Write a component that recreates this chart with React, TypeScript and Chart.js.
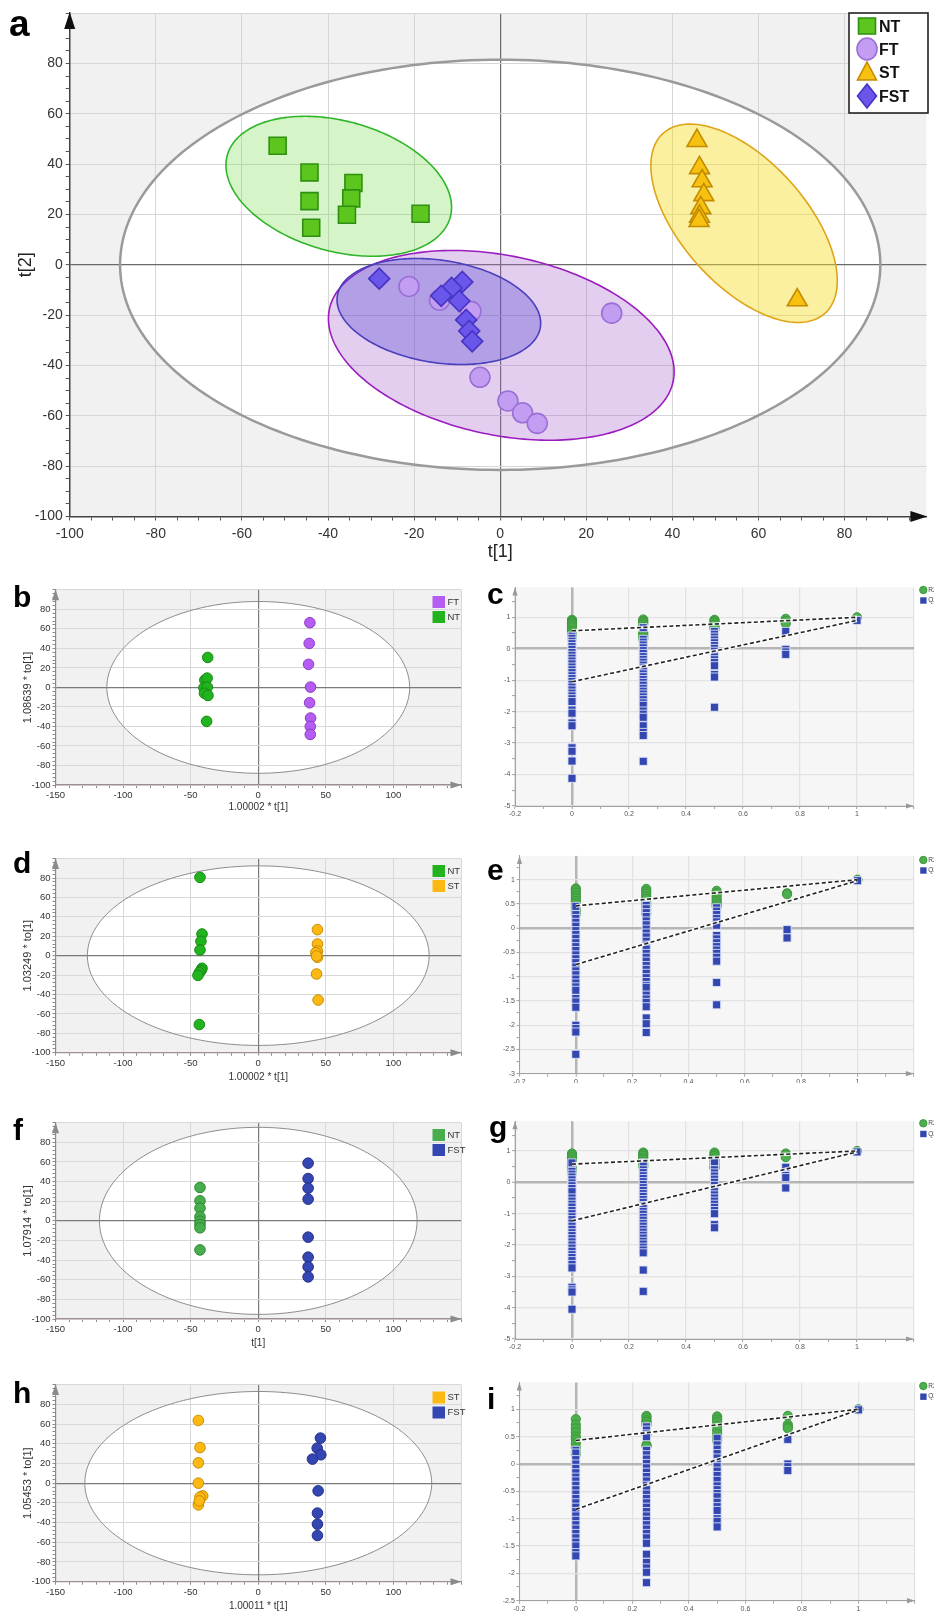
import React, { useEffect, useRef } from 'react';
import { Chart, registerables } from 'chart.js';

Chart.register(...registerables);

const FONT = '"Liberation Sans", Arial, sans-serif';

// ---------------- Panel a (PCA score plot, 4 groups) ----------------
const A_NT_X = [-51.7, -44.3, -44.3, -43.9, -34.1, -34.6, -35.6, -18.5];
const A_NT_Y = [47.3, 36.7, 25.3, 14.7, 32.5, 26.4, 19.9, 20.3];
const A_FT_X = [-21.2, -14.1, -6.8, 25.9, -4.7, 1.8, 5.2, 8.6];
const A_FT_Y = [-8.6, -14.0, -18.5, -19.2, -44.7, -54.1, -58.8, -63.0];
const A_ST_X = [45.7, 46.3, 46.9, 47.3, 46.6, 46.3, 46.2, 69.0];
const A_ST_Y = [49.3, 38.5, 33.3, 27.8, 22.6, 19.2, 17.5, -14.0];
const A_FST_X = [-28.1, -8.8, -11.3, -13.7, -9.5, -7.9, -7.2, -6.5];
const A_FST_Y = [-5.5, -6.8, -9.2, -12.3, -14.4, -21.9, -26.3, -30.4];
// ellipses: [centerX, centerY, halfWidthX, halfHeightY, correlation]
const A_ELLIPSE_ALL = [0, 0, 88.3, 81.5, 0];
const A_ELLIPSE_NT = [-37.5, 31.2, 26.2, 27.8, -0.3];
const A_ELLIPSE_FT = [0.25, -32.0, 40.15, 37.7, -0.28];
const A_ELLIPSE_ST = [56.65, 16.5, 21.65, 39.4, -0.58];
const A_ELLIPSE_FST = [-14.25, -18.55, 23.65, 21.05, -0.22];
const A_LEGEND = ['NT', 'FT', 'ST', 'FST'];

// ---------------- OPLS-DA score plots ----------------
const B_NT_X = [-37.4, -39.5, -37.8, -40.2, -37.7, -39.8, -37.2, -38.2];
const B_NT_Y = [30.7, 7.5, 9.5, -0.5, 0.3, -6.0, -8.2, -34.8];
const B_FT_X = [38.2, 37.7, 37.2, 38.7, 38.0, 38.7, 38.5, 38.5];
const B_FT_Y = [66.3, 45.1, 23.6, 0.3, -15.7, -31.4, -40.0, -48.2];
const B_ELLIPSE = [0, 0, 112, 88, 0];

const D_NT_X = [-43.1, -41.6, -42.4, -43.1, -41.6, -42.4, -43.6, -44.6, -43.6];
const D_NT_Y = [80.7, 22.3, 14.8, 5.8, -13.0, -15.4, -17.5, -20.3, -71.0];
const D_ST_X = [43.8, 43.8, 43.8, 42.6, 43.8, 43.1, 43.1, 44.3];
const D_ST_Y = [26.8, 12.0, 4.8, 3.1, -1.7, -0.3, -18.9, -45.7];
const D_ELLIPSE = [0, 0, 126.4, 92.5, 0];

const F_NT_X = [-43.1, -43.1, -43.1, -43.1, -43.1, -43.1, -43.1, -43.1];
const F_NT_Y = [34.0, 20.4, 12.9, 4.1, -0.3, -3.7, -7.1, -29.6];
const F_FST_X = [36.9, 36.9, 36.9, 36.9, 36.9, 36.9, 36.9, 36.9];
const F_FST_Y = [58.8, 43.1, 33.3, 22.1, -16.6, -37.0, -46.9, -57.1];
const F_ELLIPSE = [0, 0, 117.5, 95.3, 0];

const H_ST_X = [-44.3, -43.1, -44.3, -44.3, -41.1, -43.1, -44.3, -43.6];
const H_ST_Y = [63.6, 36.2, 20.6, 0.0, -12.9, -14.2, -22.0, -18.0];
const H_FST_X = [46.0, 43.6, 46.3, 40.1, 44.3, 43.8, 43.8, 43.8];
const H_FST_Y = [45.7, 35.5, 28.8, 24.4, -7.8, -30.4, -41.6, -53.1];
const H_ELLIPSE = [0, 0, 128.3, 93, 0];

// ---------------- Permutation tests ----------------
const PERM_X = [0, 0.25, 0.5, 0.75, 1];
const LINE_X = [0, 1];

const C_R2 = [
  [0.92, 0.88, 0.84, 0.8, 0.74, 0.68, 0.6, 0.55, 0.47, 0.4, 0.33],
  [0.93, 0.88, 0.83, 0.76, 0.69, 0.5, 0.44, 0.37, 0.3],
  [0.92, 0.88, 0.83, 0.77, 0.7, 0.63],
  [0.95, 0.88, 0.8],
  [1.0],
];
const C_Q2 = [
  [0.4, 0.33, 0.24, 0.16, 0.07, -0.02, -0.12, -0.21, -0.3, -0.39, -0.48, -0.58, -0.67, -0.76, -0.86, -0.95, -1.04, -1.13, -1.22, -1.31, -1.41, -1.5, -1.59, -1.68, -1.95, -2.05, -2.36, -2.45, -3.15, -3.26, -3.57, -4.12],
  [0.67, 0.3, 0.21, 0.12, 0.03, -0.06, -0.15, -0.25, -0.34, -0.43, -0.52, -0.61, -0.7, -0.8, -0.89, -0.98, -1.07, -1.16, -1.26, -1.35, -1.44, -1.53, -1.62, -1.72, -1.8, -1.98, -2.08, -2.18, -2.45, -2.66, -2.76, -3.58],
  [0.55, 0.46, 0.37, 0.28, 0.19, 0.1, 0.01, -0.08, -0.17, -0.26, -0.35, -0.44, -0.54, -0.82, -0.9, -1.86],
  [0.55, -0.02, -0.1, -0.18],
  [0.9],
];
const C_LINE_R2 = [0.57, 1.0];
const C_LINE_Q2 = [-1.05, 0.9];

const E_R2 = [
  [0.82, 0.78, 0.73, 0.67, 0.62, 0.56, 0.5, 0.43, 0.36, 0.28],
  [0.81, 0.76, 0.71, 0.65, 0.6, 0.53, 0.46, 0.38, 0.3],
  [0.77, 0.72, 0.66, 0.6, 0.55, 0.5, 0.45],
  [0.72, 0.7],
  [1.0],
];
const E_Q2 = [
  [0.45, 0.28, 0.2, 0.12, 0.04, -0.05, -0.13, -0.21, -0.3, -0.38, -0.46, -0.55, -0.63, -0.71, -0.8, -0.88, -0.96, -1.05, -1.13, -1.21, -1.28, -1.45, -1.52, -1.63, -2.0, -2.07, -2.14, -2.6],
  [0.47, 0.4, 0.32, 0.24, 0.15, 0.07, -0.02, -0.1, -0.18, -0.27, -0.35, -0.43, -0.52, -0.6, -0.68, -0.77, -0.85, -0.93, -1.02, -1.1, -1.18, -1.22, -1.38, -1.46, -1.53, -1.62, -1.85, -1.97, -2.15],
  [0.42, 0.35, 0.28, 0.2, 0.13, 0.06, -0.15, -0.22, -0.3, -0.38, -0.45, -0.52, -0.6, -0.68, -1.12, -1.58],
  [-0.03, -0.2],
  [0.98],
];
const E_LINE_R2 = [0.46, 1.0];
const E_LINE_Q2 = [-0.75, 0.98];

const G_R2 = [
  [0.92, 0.87, 0.8, 0.72, 0.65, 0.57, 0.5, 0.42, 0.35, 0.28],
  [0.95, 0.9, 0.85, 0.78, 0.72, 0.65, 0.58, 0.5],
  [0.95, 0.9, 0.85, 0.78, 0.7, 0.6, 0.5, 0.45],
  [0.92, 0.88, 0.8],
  [1.0],
];
const G_Q2 = [
  [0.62, 0.35, 0.26, 0.17, 0.08, -0.02, -0.11, -0.2, -0.3, -0.5, -0.6, -0.7, -0.79, -0.9, -1.0, -1.1, -1.19, -1.3, -1.4, -1.5, -1.61, -1.7, -1.8, -1.9, -2.0, -2.1, -2.2, -2.31, -2.4, -2.5, -2.62, -2.73, -3.35, -3.43, -3.5, -4.05],
  [0.62, 0.4, 0.31, 0.21, 0.12, 0.02, -0.07, -0.17, -0.26, -0.36, -0.45, -0.55, -0.64, -0.74, -0.83, -0.93, -1.02, -1.12, -1.21, -1.31, -1.4, -1.5, -1.59, -1.69, -1.78, -1.88, -1.97, -2.07, -2.16, -2.25, -2.8, -3.48],
  [0.65, 0.4, 0.3, 0.2, 0.1, 0.0, -0.1, -0.2, -0.3, -0.4, -0.5, -0.6, -0.7, -0.8, -0.9, -1.0, -1.35, -1.45],
  [0.48, 0.22, 0.15, -0.18],
  [0.97],
];
const G_LINE_R2 = [0.58, 1.0];
const G_LINE_Q2 = [-1.23, 0.97];

const I_R2 = [
  [0.82, 0.72, 0.65, 0.58, 0.5, 0.45, 0.38, 0.3, 0.22, 0.17],
  [0.88, 0.85, 0.8, 0.77, 0.72, 0.55, 0.35, 0.32],
  [0.87, 0.82, 0.77, 0.7, 0.62, 0.55, 0.48, 0.42],
  [0.88, 0.72, 0.68, 0.65],
  [1.0],
];
const I_Q2 = [
  [0.25, 0.2, 0.08, 0.0, -0.08, -0.16, -0.24, -0.31, -0.39, -0.47, -0.55, -0.63, -0.71, -0.79, -0.87, -0.95, -1.03, -1.11, -1.19, -1.27, -1.35, -1.43, -1.5, -1.62, -1.68],
  [0.68, 0.62, 0.55, 0.5, 0.25, 0.17, 0.09, 0.01, -0.07, -0.15, -0.23, -0.31, -0.39, -0.47, -0.55, -0.63, -0.71, -0.79, -0.87, -0.95, -1.03, -1.11, -1.19, -1.27, -1.35, -1.45, -1.65, -1.8, -1.9, -1.98, -2.17],
  [0.47, 0.35, 0.27, 0.19, 0.11, 0.03, -0.05, -0.13, -0.21, -0.3, -0.4, -0.47, -0.54, -0.6, -0.7, -0.78, -0.85, -1.0, -1.05, -1.15],
  [0.45, 0.0, -0.05, -0.12],
  [0.99],
];
const I_LINE_R2 = [0.43, 1.0];
const I_LINE_Q2 = [-0.83, 0.99];

// ---------------- helpers ----------------
const pts = (xs: number[], ys: number[]) => xs.map((x, i) => ({ x, y: ys[i] }));
const colPts = (cols: number[][]) => cols.flatMap((ys, i) => ys.map((y) => ({ x: PERM_X[i], y })));

function ellipsePath(ctx: any, xs: any, ys: any, e: number[]) {
  const [cx, cy, rx, ry, rho] = e;
  const ay = rho * ry;
  const by = ry * Math.sqrt(1 - rho * rho);
  ctx.beginPath();
  const n = 240;
  for (let i = 0; i <= n; i++) {
    const t = (i / n) * Math.PI * 2;
    const px = xs.getPixelForValue(cx + rx * Math.cos(t));
    const py = ys.getPixelForValue(cy + ay * Math.cos(t) + by * Math.sin(t));
    if (i === 0) ctx.moveTo(px, py);
    else ctx.lineTo(px, py);
  }
  ctx.closePath();
}

function drawArrows(ctx: any, ca: any, color: string, len: number, half: number, over: number) {
  ctx.save();
  ctx.fillStyle = color;
  ctx.beginPath();
  ctx.moveTo(ca.left, ca.top - over);
  ctx.lineTo(ca.left - half, ca.top - over + len);
  ctx.lineTo(ca.left + half, ca.top - over + len);
  ctx.closePath();
  ctx.fill();
  ctx.beginPath();
  ctx.moveTo(ca.right + over, ca.bottom);
  ctx.lineTo(ca.right + over - len, ca.bottom - half);
  ctx.lineTo(ca.right + over - len, ca.bottom + half);
  ctx.closePath();
  ctx.fill();
  ctx.restore();
}

function txt(ctx: any, s: string, x: number, y: number, font: string, color: string, align = 'left', base = 'alphabetic', rot = 0) {
  ctx.save();
  ctx.font = font;
  ctx.fillStyle = color;
  ctx.textAlign = align;
  ctx.textBaseline = base;
  ctx.translate(x, y);
  if (rot) ctx.rotate(rot);
  ctx.fillText(s, 0, 0);
  ctx.restore();
}

function scaleOpts(o: any) {
  const zero = (v: number) => Math.abs(v) < 1e-9;
  const isMajor = (v: number) => Math.abs(v / o.major - Math.round(v / o.major)) < 1e-6;
  return {
    type: 'linear',
    position: o.pos,
    min: o.min,
    max: o.max,
    afterFit: (s: any) => {
      if (o.pos === 'left') s.width = o.size;
      else s.height = o.size;
    },
    border: { display: true, color: o.axisColor, width: o.axisWidth },
    grid: {
      drawOnChartArea: true,
      drawTicks: true,
      tickLength: o.tickLen,
      tickColor: o.tickColor,
      tickWidth: 1,
      color: (c: any) => {
        const v = c.tick ? c.tick.value : 0.123;
        if (!isMajor(v)) return 'rgba(0,0,0,0)';
        return zero(v) ? o.zeroColor : o.gridColor;
      },
      lineWidth: (c: any) => (c.tick && zero(c.tick.value) ? o.zeroWidth : o.gridWidth),
    },
    ticks: {
      stepSize: o.minor,
      includeBounds: false,
      autoSkip: false,
      maxRotation: 0,
      minRotation: 0,
      padding: o.pad,
      color: o.labelColor,
      font: { family: FONT, size: o.font },
      callback: (v: number) => (isMajor(v) && v <= o.labelMax + 1e-9 ? String(Math.round(v * 100) / 100) : ''),
    },
  };
}

function baseOptions(box: any, area: any) {
  return {
    responsive: false,
    animation: false,
    events: [],
    layout: {
      autoPadding: false,
      padding: { left: 0, top: area.t - box.top, right: box.left + box.width - area.r, bottom: 0 },
    },
    plugins: { legend: { display: false }, tooltip: { enabled: false }, title: { display: false } },
  };
}

// ---------------- layouts ----------------
const BOX_A = { left: 0, top: 0, width: 934, height: 566 };
const AREA_A = { l: 69.7, r: 926.4, t: 13.1, b: 516.5 };

const SCORE_PANELS = [
  {
    letter: 'b', letterPos: [13, 606.5],
    box: { left: 0, top: 566, width: 470, height: 249 },
    area: { l: 55.5, r: 461, t: 589.8, b: 785 },
    yTitle: '1.08639 * to[1]', xTitle: '1.00002 * t[1]', xTitleY: 807.6,
    ellipse: B_ELLIPSE, legendY: 602,
    groups: [
      { name: 'FT', x: B_FT_X, y: B_FT_Y, color: '#b55cf2', border: '#8d3cc8' },
      { name: 'NT', x: B_NT_X, y: B_NT_Y, color: '#22b41e', border: '#168a12' },
    ],
  },
  {
    letter: 'd', letterPos: [13, 873],
    box: { left: 0, top: 815, width: 470, height: 268 },
    area: { l: 55.5, r: 461, t: 858.6, b: 1052.7 },
    yTitle: '1.03249 * to[1]', xTitle: '1.00002 * t[1]', xTitleY: 1077,
    ellipse: D_ELLIPSE, legendY: 871,
    groups: [
      { name: 'NT', x: D_NT_X, y: D_NT_Y, color: '#22b41e', border: '#168a12' },
      { name: 'ST', x: D_ST_X, y: D_ST_Y, color: '#fdb913', border: '#c98d00' },
    ],
  },
  {
    letter: 'f', letterPos: [13, 1140],
    box: { left: 0, top: 1083, width: 470, height: 270 },
    area: { l: 55.5, r: 461, t: 1122.7, b: 1319 },
    yTitle: '1.07914 * to[1]', xTitle: 't[1]', xTitleY: 1343,
    ellipse: F_ELLIPSE, legendY: 1135,
    groups: [
      { name: 'NT', x: F_NT_X, y: F_NT_Y, color: '#48ad4c', border: '#2f8a33' },
      { name: 'FST', x: F_FST_X, y: F_FST_Y, color: '#3446b2', border: '#24318a' },
    ],
  },
  {
    letter: 'h', letterPos: [13, 1403],
    box: { left: 0, top: 1353, width: 470, height: 258 },
    area: { l: 55.5, r: 461, t: 1384.6, b: 1581.7 },
    yTitle: '1.05453 * to[1]', xTitle: '1.00011 * t[1]', xTitleY: 1606,
    ellipse: H_ELLIPSE, legendY: 1397.5,
    groups: [
      { name: 'ST', x: H_ST_X, y: H_ST_Y, color: '#fdb913', border: '#c98d00' },
      { name: 'FST', x: H_FST_X, y: H_FST_Y, color: '#3446b2', border: '#24318a' },
    ],
  },
];

const PERM_PANELS = [
  {
    letter: 'c', letterPos: [487, 603.5],
    box: { left: 470, top: 566, width: 464, height: 254 },
    area: { l: 515, r: 914, t: 587.4, b: 806 },
    yMin: -5, yMax: 1.95, yMajor: 1, yMinor: 0.5,
    r2: C_R2, q2: C_Q2, lineR2: C_LINE_R2, lineQ2: C_LINE_Q2, legendY: [590, 600.5],
  },
  {
    letter: 'e', letterPos: [487, 880],
    box: { left: 470, top: 820, width: 464, height: 263 },
    area: { l: 519.5, r: 913.8, t: 855.9, b: 1073.7 },
    yMin: -3, yMax: 1.49, yMajor: 0.5, yMinor: 0.25,
    r2: E_R2, q2: E_Q2, lineR2: E_LINE_R2, lineQ2: E_LINE_Q2, legendY: [860, 870.5],
  },
  {
    letter: 'g', letterPos: [489, 1137],
    box: { left: 470, top: 1083, width: 464, height: 270 },
    area: { l: 515, r: 914, t: 1121.2, b: 1339 },
    yMin: -5, yMax: 1.95, yMajor: 1, yMinor: 0.5,
    r2: G_R2, q2: G_Q2, lineR2: G_LINE_R2, lineQ2: G_LINE_Q2, legendY: [1123.3, 1134],
  },
  {
    letter: 'i', letterPos: [487, 1409],
    box: { left: 470, top: 1353, width: 464, height: 258 },
    area: { l: 519.3, r: 915, t: 1382.5, b: 1600.7 },
    yMin: -2.5, yMax: 1.49, yMajor: 0.5, yMinor: 0.25,
    r2: I_R2, q2: I_Q2, lineR2: I_LINE_R2, lineQ2: I_LINE_Q2, legendY: [1386, 1396.7],
  },
];

// ---------------- chart builders ----------------
function makeA(canvas: HTMLCanvasElement) {
  const box = BOX_A;
  const area = AREA_A;
  const C = {
    NT: ['#5cc51e', '#2e8f10'],
    FT: ['#c29df2', '#9a70d6'],
    ST: ['#f6c20f', '#c48a00'],
    FST: ['#6a56ea', '#4634c2'],
  } as any;
  const plugin = {
    id: 'aDeco',
    beforeDraw(chart: any) {
      const { ctx, chartArea: ca, scales } = chart;
      ctx.save();
      ctx.fillStyle = '#f1f1f1';
      ctx.fillRect(ca.left, ca.top, ca.right - ca.left, ca.bottom - ca.top);
      ellipsePath(ctx, scales.x, scales.y, A_ELLIPSE_ALL);
      ctx.fillStyle = '#ffffff';
      ctx.fill();
      ctx.restore();
    },
    beforeDatasetsDraw(chart: any) {
      const { ctx, scales } = chart;
      const xs = scales.x, ys = scales.y;
      ctx.save();
      ellipsePath(ctx, xs, ys, A_ELLIPSE_ALL);
      ctx.strokeStyle = '#9a9a9a';
      ctx.lineWidth = 2.5;
      ctx.stroke();
      const groups: any[] = [
        [A_ELLIPSE_NT, 'rgba(125,222,80,0.32)', '#2fb52a'],
        [A_ELLIPSE_ST, 'rgba(245,222,45,0.45)', '#e0a418'],
        [A_ELLIPSE_FT, 'rgba(172,105,210,0.33)', '#9a1cbe'],
        [A_ELLIPSE_FST, 'rgba(75,65,205,0.33)', '#4a3fbd'],
      ];
      for (const [e, fill, stroke] of groups) {
        ellipsePath(ctx, xs, ys, e);
        ctx.fillStyle = fill;
        ctx.fill();
        ctx.strokeStyle = stroke;
        ctx.lineWidth = 1.6;
        ctx.stroke();
      }
      ctx.restore();
    },
    afterDraw(chart: any) {
      const { ctx, chartArea: ca } = chart;
      drawArrows(ctx, ca, '#111', 17, 5.5, 1);
      // axis titles
      txt(ctx, 't[2]', 26, (ca.top + ca.bottom) / 2, `18px ${FONT}`, '#222', 'center', 'middle', -Math.PI / 2);
      txt(ctx, 't[1]', chart.scales.x.getPixelForValue(0), 552, `18px ${FONT}`, '#222', 'center', 'middle');
      // panel letter
      txt(ctx, 'a', 9, 36, `bold 37px ${FONT}`, '#000');
      // legend
      ctx.save();
      ctx.fillStyle = '#fff';
      ctx.fillRect(849, 13, 79, 100);
      ctx.strokeStyle = '#222';
      ctx.lineWidth = 1.6;
      ctx.strokeRect(849, 13, 79, 100);
      const ys = [26, 49, 72, 96];
      const cx = 867;
      A_LEGEND.forEach((name, i) => {
        const y = ys[i];
        const [f, b] = C[name];
        ctx.fillStyle = f;
        ctx.strokeStyle = b;
        ctx.lineWidth = 1.6;
        ctx.beginPath();
        if (name === 'NT') ctx.rect(cx - 8.5, y - 8, 17, 16);
        else if (name === 'FT') ctx.ellipse(cx, y, 10, 11, 0, 0, Math.PI * 2);
        else if (name === 'ST') {
          ctx.moveTo(cx, y - 10);
          ctx.lineTo(cx + 9.5, y + 8);
          ctx.lineTo(cx - 9.5, y + 8);
          ctx.closePath();
        } else {
          ctx.moveTo(cx, y - 12);
          ctx.lineTo(cx + 9.5, y);
          ctx.lineTo(cx, y + 12);
          ctx.lineTo(cx - 9.5, y);
          ctx.closePath();
        }
        ctx.fill();
        ctx.stroke();
        txt(ctx, name, 879, y + 6, `bold 16px ${FONT}`, '#111');
      });
      ctx.restore();
    },
  };
  const common = { axisColor: '#444', axisWidth: 1.5, tickColor: '#555', tickLen: 4, gridColor: '#d6d6d6', gridWidth: 1, zeroColor: '#6a6a6a', zeroWidth: 1.2, labelColor: '#333', font: 14 };
  return new Chart(canvas, {
    type: 'scatter',
    data: {
      datasets: [
        { label: 'FST', data: pts(A_FST_X, A_FST_Y), pointStyle: 'rectRot', pointRadius: 10.5, backgroundColor: C.FST[0], borderColor: C.FST[1], borderWidth: 1.6, order: 0 },
        { label: 'FT', data: pts(A_FT_X, A_FT_Y), pointStyle: 'circle', pointRadius: 10, backgroundColor: C.FT[0], borderColor: C.FT[1], borderWidth: 1.6, order: 1 },
        { label: 'NT', data: pts(A_NT_X, A_NT_Y), pointStyle: 'rect', pointRadius: 12, backgroundColor: C.NT[0], borderColor: C.NT[1], borderWidth: 1.6, order: 2 },
        { label: 'ST', data: pts(A_ST_X, A_ST_Y), pointStyle: 'triangle', pointRadius: 11.5, backgroundColor: C.ST[0], borderColor: C.ST[1], borderWidth: 1.6, order: 3 },
      ],
    },
    options: {
      ...baseOptions(box, area),
      scales: {
        x: scaleOpts({ ...common, pos: 'bottom', min: -100, max: 99, major: 20, minor: 5, labelMax: 80, size: box.top + box.height - area.b, pad: 5 }),
        y: scaleOpts({ ...common, pos: 'left', min: -100, max: 100, major: 20, minor: 5, labelMax: 80, size: area.l - box.left, pad: 3 }),
      },
    } as any,
    plugins: [plugin],
  } as any);
}

function makeScore(canvas: HTMLCanvasElement, s: any) {
  const box = s.box;
  const area = s.area;
  const plugin = {
    id: 'scoreDeco',
    beforeDraw(chart: any) {
      const { ctx, chartArea: ca, scales } = chart;
      ctx.save();
      ctx.fillStyle = '#f1f1f1';
      ctx.fillRect(ca.left, ca.top, ca.right - ca.left, ca.bottom - ca.top);
      ellipsePath(ctx, scales.x, scales.y, s.ellipse);
      ctx.fillStyle = '#ffffff';
      ctx.fill();
      ctx.restore();
    },
    beforeDatasetsDraw(chart: any) {
      const { ctx, scales } = chart;
      ctx.save();
      ellipsePath(ctx, scales.x, scales.y, s.ellipse);
      ctx.strokeStyle = '#8c8c8c';
      ctx.lineWidth = 1;
      ctx.stroke();
      ctx.restore();
    },
    afterDraw(chart: any) {
      const { ctx, chartArea: ca } = chart;
      drawArrows(ctx, ca, '#8a8a8a', 11, 3.5, 0.5);
      const ox = box.left, oy = box.top;
      txt(ctx, s.yTitle, 28 - ox, (ca.top + ca.bottom) / 2, `11px ${FONT}`, '#333', 'center', 'middle', -Math.PI / 2);
      txt(ctx, s.xTitle, chart.scales.x.getPixelForValue(0), s.xTitleY - oy, `10px ${FONT}`, '#333', 'center', 'middle');
      txt(ctx, s.letter, s.letterPos[0] - ox, s.letterPos[1] - oy, `bold 30px ${FONT}`, '#000');
      s.groups.forEach((g: any, i: number) => {
        const y = s.legendY + i * 15 - oy;
        ctx.save();
        ctx.fillStyle = g.color;
        ctx.fillRect(432.5 - ox, y - 6, 12.5, 12);
        ctx.restore();
        txt(ctx, g.name, 447.5 - ox, y, `9.5px ${FONT}`, '#333', 'left', 'middle');
      });
    },
  };
  const common = { axisColor: '#8a8a8a', axisWidth: 1.2, tickColor: '#8a8a8a', tickLen: 3, gridColor: '#d8d8d8', gridWidth: 1, zeroColor: '#7a7a7a', zeroWidth: 1.2, labelColor: '#333', font: 9.5 };
  return new Chart(canvas, {
    type: 'scatter',
    data: {
      datasets: s.groups.map((g: any, i: number) => ({
        label: g.name,
        data: pts(g.x, g.y),
        pointStyle: 'circle',
        pointRadius: 5.3,
        backgroundColor: g.color,
        borderColor: g.border,
        borderWidth: 1,
        order: i,
      })),
    },
    options: {
      ...baseOptions(box, area),
      scales: {
        x: scaleOpts({ ...common, axisColor: '#a28e8e', pos: 'bottom', min: -150, max: 150, major: 50, minor: 10, labelMax: 100, size: box.top + box.height - area.b, pad: 2 }),
        y: scaleOpts({ ...common, pos: 'left', min: -100, max: 100, major: 20, minor: 4, labelMax: 80, size: area.l - box.left, pad: 2 }),
      },
    } as any,
    plugins: [plugin],
  } as any);
}

function makePerm(canvas: HTMLCanvasElement, s: any) {
  const box = s.box;
  const area = s.area;
  const plugin = {
    id: 'permDeco',
    beforeDraw(chart: any) {
      const { ctx, chartArea: ca } = chart;
      ctx.save();
      ctx.fillStyle = '#f6f6f6';
      ctx.fillRect(ca.left, ca.top, ca.right - ca.left, ca.bottom - ca.top);
      ctx.restore();
    },
    afterDraw(chart: any) {
      const { ctx, chartArea: ca } = chart;
      drawArrows(ctx, ca, '#9a9a9a', 8, 2.6, 0);
      const ox = box.left, oy = box.top;
      txt(ctx, s.letter, s.letterPos[0] - ox, s.letterPos[1] - oy, `bold 30px ${FONT}`, '#000');
      ctx.save();
      ctx.fillStyle = '#4cae4c';
      ctx.strokeStyle = '#3c983c';
      ctx.beginPath();
      ctx.arc(923.3 - ox, s.legendY[0] - oy, 3.7, 0, Math.PI * 2);
      ctx.fill();
      ctx.stroke();
      ctx.fillStyle = '#3447b0';
      ctx.fillRect(920.2 - ox, s.legendY[1] - oy - 3.2, 6.4, 6.4);
      ctx.restore();
      txt(ctx, 'R2', 928.3 - ox, s.legendY[0] - oy, `6.5px ${FONT}`, '#444', 'left', 'middle');
      txt(ctx, 'Q2', 928.3 - ox, s.legendY[1] - oy, `6.5px ${FONT}`, '#444', 'left', 'middle');
    },
  };
  const common = { axisColor: '#a0a0a0', axisWidth: 1, tickColor: '#a0a0a0', tickLen: 3, gridColor: '#e2e2e2', gridWidth: 1.2, zeroColor: '#b5b5b5', zeroWidth: 2.5, labelColor: '#555', font: 7 };
  const dash = { showLine: true, pointRadius: 0, borderColor: '#222', borderWidth: 1.6, borderDash: [4, 2.5], order: 0 };
  const under = { showLine: true, pointRadius: 0, borderColor: 'rgba(255,255,255,0.85)', borderWidth: 3.6, order: 0 };
  return new Chart(canvas, {
    type: 'scatter',
    data: {
      datasets: [
        { label: 'R2 line', data: pts(LINE_X, s.lineR2), ...dash },
        { label: 'Q2 line', data: pts(LINE_X, s.lineQ2), ...dash },
        { label: 'R2 line bg', data: pts(LINE_X, s.lineR2), ...under },
        { label: 'Q2 line bg', data: pts(LINE_X, s.lineQ2), ...under },
        { label: 'Q2', data: colPts(s.q2), pointStyle: 'rect', pointRadius: 5.7, backgroundColor: '#3447b0', borderColor: 'rgba(225,230,250,0.85)', borderWidth: 1, order: 1 },
        { label: 'R2', data: colPts(s.r2), pointStyle: 'circle', pointRadius: 4.6, backgroundColor: '#4cae4c', borderColor: '#3c983c', borderWidth: 1, order: 2 },
      ],
    },
    options: {
      ...baseOptions(box, area),
      scales: {
        x: scaleOpts({ ...common, pos: 'bottom', min: -0.2, max: 1.2, major: 0.2, minor: 0.1, labelMax: 1, size: box.top + box.height - area.b, pad: 1 }),
        y: scaleOpts({ ...common, pos: 'left', min: s.yMin, max: s.yMax, major: s.yMajor, minor: s.yMinor, labelMax: 1, size: area.l - box.left, pad: 1.5 }),
      },
    } as any,
    plugins: [plugin],
  } as any);
}

function ChartCanvas({ box, make }: any) {
  const ref = useRef<HTMLCanvasElement | null>(null);
  useEffect(() => {
    const chart = make(ref.current);
    return () => chart.destroy();
  }, []);
  return (
    <canvas
      ref={ref}
      width={box.width}
      height={box.height}
      style={{ position: 'absolute', left: box.left, top: box.top, width: box.width, height: box.height }}
    />
  );
}

export default function App() {
  return (
    <div style={{ position: 'absolute', left: 0, top: 0, width: 934, height: 1611, background: '#fff', overflow: 'hidden' }}>
      <ChartCanvas box={BOX_A} make={(c: HTMLCanvasElement) => makeA(c)} />
      {SCORE_PANELS.map((s) => (
        <ChartCanvas key={s.letter} box={s.box} make={(c: HTMLCanvasElement) => makeScore(c, s)} />
      ))}
      {PERM_PANELS.map((s) => (
        <ChartCanvas key={s.letter} box={s.box} make={(c: HTMLCanvasElement) => makePerm(c, s)} />
      ))}
    </div>
  );
}
